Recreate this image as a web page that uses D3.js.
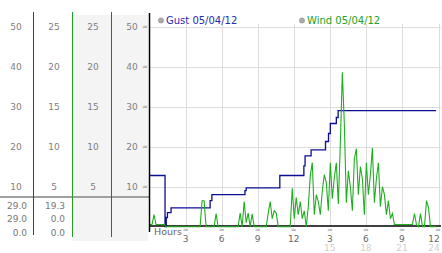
<!DOCTYPE html>
<html>
<head>
<meta charset="utf-8">
<script src="https://cdn.jsdelivr.net/npm/d3@7"></script>
<style>
  body { margin: 0; background: #fff; }
  svg { display: block; font-family: "DejaVu Sans", sans-serif; }
</style>
</head>
<body>
<svg id="canvas" width="442" height="253"></svg>
<script>
// gust steps (hour, mph)
let gustHours = [0, 1.25, 1.35, 1.45, 1.75, 5.0, 5.15, 7.9, 8.0, 10.8, 12.8, 12.9, 13.4, 14.6, 14.85, 15.0, 15.5, 15.65, 23.8]
let gustValues = [12.8, 0, 2.3, 3.5, 4.7, 6.5, 8.0, 9.0, 9.7, 12.8, 15.2, 17.7, 19.2, 21.3, 23.3, 25.8, 27.3, 29.0, 29.0]

// wind, one value every 10 minutes
let windValues = [
  0.4, 0.4, 3.0, 0.4, 0.4, 0.4, 0.4, 0.4, 0, 0, 0, 0,
  0, 0, 0, 0, 0, 0, 0, 0, 0, 0, 0, 0,
  0, 0, 6.5, 6.5, 0, 0, 0, 0, 0, 3.3, 0, 0,
  0, 0, 0, 0, 0, 0, 0, 0, 0, 3.4, 0, 6.3,
  1.0, 3.4, 0, 3.2, 0, 0, 0, 0, 0, 0, 0, 3.4,
  6.3, 2, 4, 3.4, 0, 0, 0, 0, 0, 0, 0, 9.6,
  2, 7.3, 3, 6.3, 2, 4, 0, 5, 12.7, 16, 3, 8,
  6.3, 3, 9, 13, 11, 4, 16, 7, 12.3, 16, 5.7, 20.7,
  38.6, 25.7, 6, 14, 10, 4, 17, 19.5, 8, 15, 12, 3,
  16, 8, 13, 19.7, 6, 12, 16, 5, 10, 8, 3, 6.5,
  2, 3.3, 0.4, 0.4, 0.4, 0.4, 0.4, 0.4, 0.4, 0.4, 0.4, 0.4,
  3.3, 0.4, 0, 3.3, 0, 0, 6.5, 4.8, 0, 0, 0, 0
]

let yTicks = [10, 20, 30, 40, 50]
let halfTicks = [5, 10, 15, 20, 25]
let hourTicks = [3, 6, 9, 12, 15, 18, 21, 24]
let hourLabels = ['3', '6', '9', '12', '3', '6', '9', '12']
let hourLabels2 = ['', '', '', '', '15', '18', '21', '24']

let gustNow = ['29.0', '29.0', '0.0']
let windNow = ['19.3', '0.0', '0.0']

let svg = d3.select('#canvas')

let x = d3.scaleLinear().domain([0, 24]).range([150, 438.5])
let y = d3.scaleLinear().domain([0, 50]).range([226.7, 26.7])
let yHalf = d3.scaleLinear().domain([0, 25]).range([226.7, 26.7])

// left panel backgrounds
svg.append('rect').attr('x', 73).attr('y', 15).attr('width', 75).attr('height', 226).attr('fill', '#f4f4f4')

// scale label columns
let columns = [
  { cx: 16, ticks: yTicks, scale: y },
  { cx: 54, ticks: halfTicks, scale: yHalf },
  { cx: 93, ticks: halfTicks, scale: yHalf },
  { cx: 132, ticks: yTicks, scale: y }
]
columns.forEach((col) => {
  svg.append('g').selectAll('text')
    .data(col.ticks)
    .enter()
    .append('text')
    .attr('x', col.cx)
    .attr('y', (d) => col.scale(d) + 3)
    .attr('text-anchor', 'middle')
    .attr('font-size', 9)
    .attr('fill', '#808080')
    .text((d) => d)
})
svg.append('g').selectAll('text')
  .data(yTicks)
  .enter()
  .append('text')
  .attr('x', 145)
  .attr('y', (d) => y(d) + 2)
  .attr('text-anchor', 'middle')
  .attr('font-size', 7)
  .attr('fill', '#999')
  .text('≈')

// current / max / min readouts
svg.append('line').attr('x1', 0).attr('x2', 149).attr('y1', 197).attr('y2', 197)
  .attr('stroke', '#a0a0a0').attr('stroke-width', 2)
let rowY = [205, 218.5, 232]
svg.append('g').selectAll('text')
  .data(gustNow)
  .enter()
  .append('text')
  .attr('x', 27).attr('y', (d, i) => rowY[i] + 3.5)
  .attr('text-anchor', 'end').attr('font-size', 9).attr('fill', '#777')
  .text((d) => d)
svg.append('g').selectAll('text')
  .data(windNow)
  .enter()
  .append('text')
  .attr('x', 65).attr('y', (d, i) => rowY[i] + 3.5)
  .attr('text-anchor', 'end').attr('font-size', 9).attr('fill', '#777')
  .text((d) => d)

let dividers = [[33.5, '#1f3fb0', 235], [72.5, '#22a022', 237], [111.5, '#c02828', 237]]
dividers.forEach((d) => {
  svg.append('line').attr('x1', d[0]).attr('x2', d[0]).attr('y1', 12).attr('y2', d[2])
    .attr('stroke', d[1]).attr('stroke-width', 1)
})

// plot area
svg.append('rect').attr('x', 150).attr('y', 13).attr('width', 292).attr('height', 214).attr('fill', '#fff')

svg.append('g').selectAll('line')
  .data(yTicks)
  .enter()
  .append('line')
  .attr('x1', 150).attr('x2', 441)
  .attr('y1', (d) => Math.round(y(d)) + 0.5).attr('y2', (d) => Math.round(y(d)) + 0.5)
  .attr('stroke', '#dcdcdc')
svg.append('g').selectAll('line')
  .data(hourTicks)
  .enter()
  .append('line')
  .attr('x1', (d) => Math.round(x(d)) + 0.5).attr('x2', (d) => Math.round(x(d)) + 0.5)
  .attr('y1', 24).attr('y2', 226)
  .attr('stroke', '#dcdcdc')

// gust
let gustData = gustHours.map((h, i) => [h, gustValues[i]])
svg.append('path')
  .datum(gustData)
  .attr('fill', 'none')
  .attr('stroke', '#0d0d94')
  .attr('stroke-width', 1.3)
  .attr('d', d3.line().x((d) => x(d[0])).y((d) => y(d[1])).curve(d3.curveStepAfter))

// axes
svg.append('line').attr('x1', 150).attr('x2', 441).attr('y1', 226).attr('y2', 226)
  .attr('stroke', '#000').attr('stroke-width', 1.6)

// wind
svg.append('path')
  .datum(windValues)
  .attr('fill', 'none')
  .attr('stroke', '#1fae1f')
  .attr('stroke-width', 1.1)
  .attr('d', d3.line().x((d, i) => x(i / 6)).y((d) => y(d) - (d > 0 && d < 1 ? 0.6 : 0)))

svg.append('line').attr('x1', 149.5).attr('x2', 149.5).attr('y1', 13).attr('y2', 232)
  .attr('stroke', '#000').attr('stroke-width', 1.5)

// x labels
svg.append('text').attr('x', 154).attr('y', 235).attr('font-size', 9.5).attr('fill', '#666').text('Hours')
svg.append('g').selectAll('text')
  .data(hourTicks)
  .enter()
  .append('text')
  .attr('x', (d) => x(d) - 0.5).attr('y', 232)
  .attr('text-anchor', 'middle').attr('font-size', 7).attr('fill', '#999')
  .text('≈')
svg.append('g').selectAll('text')
  .data(hourTicks)
  .enter()
  .append('text')
  .attr('x', (d) => Math.min(x(d) - 0.5, 434)).attr('y', 242)
  .attr('text-anchor', 'middle').attr('font-size', 9).attr('fill', '#666')
  .text((d, i) => hourLabels[i])
svg.append('g').selectAll('text')
  .data(hourTicks)
  .enter()
  .append('text')
  .attr('x', (d) => Math.min(x(d) - 0.5, 434)).attr('y', 250.5)
  .attr('text-anchor', 'middle').attr('font-size', 9).attr('fill', '#cfcfcf')
  .text((d, i) => hourLabels2[i])

// legend
let legend = [['Gust 05/04/12', '#2a2aae', 161], ['Wind 05/04/12', '#22a322', 302]]
legend.forEach((l) => {
  svg.append('circle').attr('cx', l[2]).attr('cy', 20.5).attr('r', 2.6)
    .attr('fill', '#aaa').attr('stroke', '#888').attr('stroke-width', 0.6)
  svg.append('text').attr('x', l[2] + 5).attr('y', 24.3).attr('font-size', 10).attr('fill', l[1]).text(l[0])
})
</script>
</body>
</html>
